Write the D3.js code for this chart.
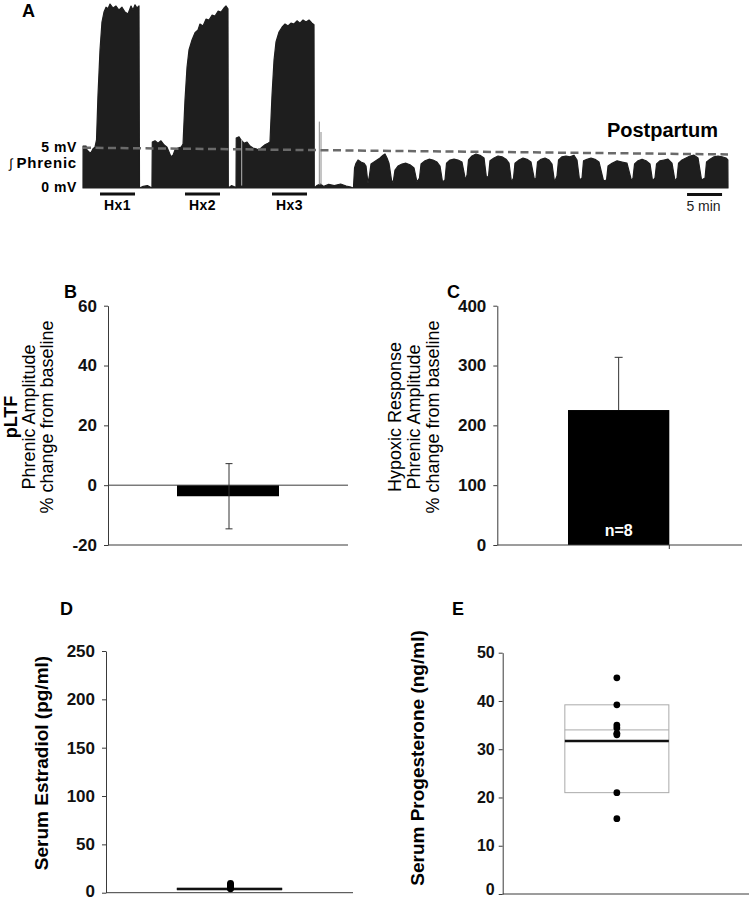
<!DOCTYPE html>
<html>
<head>
<meta charset="utf-8">
<script src="https://cdn.jsdelivr.net/npm/d3@7"></script>
<style>
  body { margin: 0; background: #fff; }
  svg { font-family: "Liberation Sans", Arial, sans-serif; }
</style>
</head>
<body>
<svg id="fig" width="749" height="900"></svg>
<script>
// ---- panel A: integrated phrenic trace, [minutes, mV] envelope
const traceEnvelope = [
  [0, 0], [0.01, 5.25], [0.43, 5.25], [0.57, 4.75], [0.86, 4.5], [1.14, 4.4], [1.43, 4.9], [1.71, 5.1],
  [1.93, 6.0], [2.14, 11.6], [2.43, 17.25], [2.71, 20.75], [3.0, 22.0], [3.29, 22.6], [3.57, 22.4],
  [3.86, 23.0], [4.29, 22.5], [4.71, 22.75], [5.14, 22.25], [5.57, 22.6], [6.0, 22.0], [6.43, 21.75],
  [6.86, 22.75], [7.14, 22.25], [7.43, 22.9], [7.71, 22.5], [8.0, 22.75], [8.07, 0],
  [8.6, 0.2], [9.2, 0.3], [9.85, 0],
  [9.9, 5.75], [10.29, 5.9], [10.71, 5.6], [11.14, 5.9], [11.57, 5.4], [12.0, 5.1], [12.29, 4.5],
  [12.57, 3.9], [12.86, 4.1], [13.14, 4.75], [13.57, 5.0], [14.0, 5.1], [14.29, 5.5], [14.57, 11.0],
  [14.86, 15.1], [15.14, 17.25], [15.57, 18.5], [16.0, 19.4], [16.43, 19.75], [16.71, 20.5], [17.14, 20.25],
  [17.57, 21.1], [18.0, 21.0], [18.43, 21.6], [18.86, 21.5], [19.29, 22.1], [19.71, 22.0], [20.14, 22.5],
  [20.43, 22.75], [20.71, 22.4], [20.76, 0],
  [21.2, 0.3], [21.8, 0.1], [21.86, 0],
  [21.89, 6.25], [22.29, 6.4], [22.57, 6.0], [23.0, 5.6], [23.43, 5.75], [23.86, 5.25], [24.29, 5.0],
  [24.71, 4.9], [25.14, 4.75], [25.57, 5.1], [26.0, 5.4], [26.43, 5.6], [26.71, 5.75], [27.0, 11.6],
  [27.29, 16.0], [27.57, 18.25], [28.0, 19.5], [28.43, 20.1], [28.86, 20.5], [29.29, 20.25], [29.71, 20.6],
  [30.14, 20.5], [30.57, 20.9], [31.0, 20.6], [31.43, 21.0], [31.86, 20.75], [32.29, 21.0], [32.71, 20.6],
  [33.0, 20.4], [33.04, 0],
  [33.4, 0.3], [33.9, 0.5], [34.4, 0.2], [35.1, 0.45], [35.9, 0.3], [36.8, 0.5], [37.6, 0.25], [38.3, 0.1], [38.6, 0],
  // postpartum baseline bursts
  [38.64, 0.1], [38.79, 2.5], [39.0, 3.1], [39.29, 3.5], [39.71, 3.25], [40.14, 3.1], [40.43, 2.75], [40.71, 0.6],
  [40.93, 1.6], [41.14, 3.0], [41.57, 3.25], [42.0, 3.5], [42.43, 3.75], [42.86, 4.1], [43.14, 4.25], [43.43, 3.75], [43.71, 3.1], [44.07, 1.0],
  [44.29, 0.6], [44.57, 2.25], [45.0, 2.75], [45.57, 3.0], [46.14, 3.1], [46.71, 2.9], [47.29, 2.5], [47.71, 0.75],
  [48.07, 1.25], [48.29, 3.0], [48.86, 3.4], [49.43, 3.6], [50.0, 3.5], [50.57, 3.25], [51.0, 2.75], [51.36, 0.75],
  [51.71, 1.0], [51.93, 3.1], [52.43, 3.5], [53.0, 3.6], [53.57, 3.5], [54.14, 3.25], [54.64, 1.0],
  [54.86, 1.6], [55.07, 3.5], [55.57, 4.0], [56.14, 4.25], [56.71, 4.1], [57.29, 3.75], [57.64, 1.25],
  [57.93, 1.5], [58.14, 3.4], [58.71, 3.75], [59.29, 4.0], [59.86, 3.9], [60.43, 3.6], [60.86, 3.1], [61.21, 0.75],
  [61.5, 1.25], [61.71, 3.1], [62.29, 3.5], [62.86, 3.75], [63.43, 3.6], [64.0, 3.25], [64.5, 1.0],
  [64.71, 1.25], [64.93, 3.25], [65.43, 3.6], [66.0, 3.75], [66.57, 3.5], [67.0, 3.0], [67.36, 0.75],
  [67.71, 1.5], [67.93, 3.5], [68.43, 3.9], [69.0, 4.0], [69.57, 3.9], [70.14, 4.1], [70.57, 3.5], [70.93, 1.0],
  [71.29, 1.25], [71.5, 3.4], [72.0, 3.6], [72.57, 3.75], [73.14, 3.6], [73.71, 3.25], [74.36, 0.9],
  [74.79, 1.0], [75.0, 2.75], [75.57, 3.1], [76.29, 3.4], [77.0, 3.25], [77.71, 3.1], [78.36, 0.9],
  [78.57, 1.25], [78.79, 3.0], [79.29, 3.4], [79.86, 3.6], [80.43, 3.4], [81.0, 3.0], [81.36, 0.9],
  [81.71, 1.25], [81.93, 3.0], [82.43, 3.4], [83.0, 3.5], [83.57, 3.6], [84.14, 3.1], [84.57, 0.9],
  [84.86, 1.25], [85.07, 3.1], [85.57, 3.5], [86.14, 3.75], [86.71, 4.0], [87.29, 4.1], [87.86, 3.75], [88.36, 1.0],
  [88.86, 1.25], [89.07, 3.25], [89.57, 3.6], [90.14, 3.9], [90.71, 4.0], [91.29, 3.9], [91.86, 3.75], [92.12, 3.5], [92.14, 0]
];
const spikeTimes = [33.76, 34.0];
const spikeTops = [8.3, 7.0];
const artifactTimes = [22.67];
const artifactTops = [6.0];
const baselineRef = [[0, 5.04], [92.14, 4.2]];
const hxLabels = ['Hx1', 'Hx2', 'Hx3'];
const hxStart = [2.43, 14.57, 27.0];
const hxEnd = [7.43, 19.57, 32.0];
const scaleBarMin = [86.29, 91.29];

// ---- panel B / C: mean +/- SEM
const groups = ['Postpartum'];
const pltfMean = [-3.7];
const pltfSem = [10.9];
const hvrMean = [225.6];
const hvrSem = [88.1];
const ticksB = [-20, 0, 20, 40, 60];
const ticksC = [0, 100, 200, 300, 400];

// ---- panel D / E: individual values and box summary
const estradiolValues = [9.5, 8.5, 7.5, 6.5, 5.5, 5.0, 4.5, 4.0];
const estradiolBox = [3.2, 4.6];   // [q1, q3]
const estradiolMedian = [3.8];
const progesteroneValues = [44.8, 39.2, 35.0, 34.4, 33.3, 33.0, 21.0, 15.6];
const progesteroneBox = [21.0, 39.2];
const progesteroneMean = [34.0];
const progesteroneMedian = [31.7];
const ticksD = [0, 50, 100, 150, 200, 250];
const ticksE = [0, 10, 20, 30, 40, 50];

const svg = d3.select('#fig');
const axisColor = '#3a3a3a';
const font = '"Liberation Sans", Arial, sans-serif';

function panelLetter(txt, x, y) {
  svg.append('text').attr('x', x).attr('y', y)
    .attr('font-size', 18).attr('font-weight', 'bold').text(txt);
}

function yAxis(scale, ticks, x, pad, size, dy) {
  svg.append('g')
    .attr('transform', 'translate(' + x + ',0)')
    .call(d3.axisLeft(scale).tickValues(ticks).tickSize(4).tickSizeOuter(0)
      .tickPadding(pad).tickFormat(d => String(d)))
    .call(g => {
      g.select('.domain').attr('stroke', axisColor);
      g.selectAll('.tick line').attr('stroke', axisColor);
      g.selectAll('.tick text')
        .attr('font-family', font).attr('font-size', size)
        .attr('font-weight', 'bold').attr('fill', '#111')
        .attr('dy', (d, i) => (i === 0 && dy != null) ? dy : '0.32em');
    });
}

function rotLabel(lines, xs, cy, bold, size) {
  lines.forEach((t, i) => {
    svg.append('text')
      .attr('transform', 'translate(' + xs[i] + ',' + cy + ') rotate(-90)')
      .attr('text-anchor', 'middle')
      .attr('font-size', size)
      .attr('font-weight', bold[i] ? 'bold' : 'normal')
      .text(t);
  });
}

function hline(x1, x2, y, color, w) {
  svg.append('line').attr('x1', x1).attr('x2', x2).attr('y1', y).attr('y2', y)
    .attr('stroke', color).attr('stroke-width', w);
}

// ================= Panel A =================
panelLetter('A', 22, 17);
const xA = d3.scaleLinear().domain([0, 92.14]).range([83, 728]);
const yA = d3.scaleLinear().domain([0, 5]).range([188, 148]);

const traceArea = d3.area()
  .x(d => xA(d[0]))
  .y0(yA(0))
  .y1(d => yA(d[1]));

svg.append('path')
  .datum(traceEnvelope)
  .attr('d', traceArea)
  .attr('fill', '#1e1e1e')
  .attr('stroke', '#1e1e1e')
  .attr('stroke-width', 1.2)
  .attr('stroke-linejoin', 'round');

artifactTimes.forEach((t, i) => {
  svg.append('line').attr('x1', xA(t)).attr('x2', xA(t))
    .attr('y1', yA(0.3)).attr('y2', yA(artifactTops[i]))
    .attr('stroke', '#b5b5b5').attr('stroke-width', 1);
});
spikeTimes.forEach((t, i) => {
  svg.append('line').attr('x1', xA(t)).attr('x2', xA(t))
    .attr('y1', yA(0.4)).attr('y2', yA(spikeTops[i]))
    .attr('stroke', '#8a8a8a').attr('stroke-width', 1);
});

svg.append('path')
  .datum(baselineRef)
  .attr('d', d3.line().x(d => xA(d[0])).y(d => yA(d[1])))
  .attr('fill', 'none')
  .attr('stroke', '#6a6a6a')
  .attr('stroke-width', 2.5)
  .attr('stroke-dasharray', '8,4.5');

svg.append('text').attr('x', 77).attr('y', yA(5) + 4).attr('letter-spacing', 0.6)
  .attr('text-anchor', 'end').attr('font-size', 14).attr('font-weight', 'bold').text('5 mV');
svg.append('text').attr('x', 77).attr('y', yA(0) + 4).attr('letter-spacing', 0.6)
  .attr('text-anchor', 'end').attr('font-size', 14).attr('font-weight', 'bold').text('0 mV');
const phr = svg.append('text').attr('x', 77).attr('y', yA(2.5))
  .attr('text-anchor', 'end').attr('font-size', 15);
phr.append('tspan').attr('font-weight', 'normal').attr('font-size', 13).text('\u222B ');
phr.append('tspan').attr('font-weight', 'bold').attr('letter-spacing', 0.8).text('Phrenic');

hxLabels.forEach((lab, i) => {
  svg.append('line').attr('x1', xA(hxStart[i])).attr('x2', xA(hxEnd[i]))
    .attr('y1', 194).attr('y2', 194).attr('stroke', '#111').attr('stroke-width', 3);
  svg.append('text').attr('x', (xA(hxStart[i]) + xA(hxEnd[i])) / 2).attr('y', 210)
    .attr('text-anchor', 'middle').attr('font-size', 14).attr('font-weight', 'bold')
    .attr('letter-spacing', 0.5).text(lab);
});
svg.append('line').attr('x1', xA(scaleBarMin[0])).attr('x2', xA(scaleBarMin[1]))
  .attr('y1', 194.5).attr('y2', 194.5).attr('stroke', '#111').attr('stroke-width', 3);
svg.append('text').attr('x', (xA(scaleBarMin[0]) + xA(scaleBarMin[1])) / 2 - 1).attr('y', 211)
  .attr('text-anchor', 'middle').attr('font-size', 14).attr('fill', '#222').text('5 min');
svg.append('text').attr('x', 718).attr('y', 137)
  .attr('text-anchor', 'end').attr('font-size', 20).attr('font-weight', 'bold').text(groups[0]);

// ================= Panel B =================
panelLetter('B', 64, 298);
const xB = d3.scaleBand().domain(groups).range([108, 348]).padding(0.4035);
const yB = d3.scaleLinear().domain([-20, 60]).range([545, 305.7]);
yAxis(yB, ticksB, 108, 7, 17);
hline(108, 348, yB(-20), axisColor, 1);
svg.selectAll('.barB').data(groups).enter().append('rect')
  .attr('x', d => xB(d)).attr('width', xB.bandwidth())
  .attr('y', (d, i) => yB(Math.max(0, pltfMean[i])))
  .attr('height', (d, i) => Math.abs(yB(pltfMean[i]) - yB(0)))
  .attr('fill', '#000');
hline(108, 348, yB(0), axisColor, 1);
groups.forEach((g, i) => {
  const cx = xB(g) + xB.bandwidth() / 2 + 1;
  const hi = pltfMean[i] + pltfSem[i], lo = pltfMean[i] - pltfSem[i];
  svg.append('line').attr('x1', cx).attr('x2', cx).attr('y1', yB(hi)).attr('y2', yB(lo))
    .attr('stroke', '#333').attr('stroke-width', 1);
  hline(cx - 3.5, cx + 3.5, yB(hi), '#333', 1);
  hline(cx - 3.5, cx + 3.5, yB(lo), '#333', 1);
});
rotLabel(['pLTF', 'Phrenic Amplitude', '% change from baseline'], [17, 35, 53], 417, [true, false, false], 18);

// ================= Panel C =================
panelLetter('C', 447, 298);
const xC = d3.scaleBand().domain(groups).range([497.3, 740]).padding(0.411);
const yC = d3.scaleLinear().domain([0, 400]).range([545, 305.7]);
yAxis(yC, ticksC, 497.3, 7, 17);
svg.selectAll('.barC').data(groups).enter().append('rect')
  .attr('x', d => xC(d)).attr('width', xC.bandwidth())
  .attr('y', (d, i) => yC(hvrMean[i]))
  .attr('height', (d, i) => yC(0) - yC(hvrMean[i]))
  .attr('fill', '#000');
groups.forEach((g, i) => {
  const cx = xC(g) + xC.bandwidth() / 2;
  const hi = hvrMean[i] + hvrSem[i];
  svg.append('line').attr('x1', cx).attr('x2', cx).attr('y1', yC(hi)).attr('y2', yC(hvrMean[i]))
    .attr('stroke', '#333').attr('stroke-width', 1);
  hline(cx - 4, cx + 4, yC(hi), '#333', 1);
  svg.append('text').attr('x', cx).attr('y', yC(0) - 9)
    .attr('text-anchor', 'middle').attr('font-size', 16).attr('font-weight', 'bold')
    .attr('fill', '#fff').text('n=8');
  const edge = xC(g) + xC.bandwidth();
  svg.append('line').attr('x1', edge).attr('x2', edge).attr('y1', yC(0)).attr('y2', yC(0) + 4)
    .attr('stroke', axisColor);
});
hline(497.3, 742, yC(0), axisColor, 1);
rotLabel(['Hypoxic Response', 'Phrenic Amplitude', '% change from baseline'], [401, 420, 439], 417, [false, false, false], 18);

// ================= Panel D =================
panelLetter('D', 60, 615);
const xD = d3.scaleBand().domain(groups).range([106, 353]).padding(0.403);
const yD = d3.scaleLinear().domain([0, 250]).range([892.7, 651]);
yAxis(yD, ticksD, 106, 7, 17, '0.2em');
hline(106, 353, yD(0), axisColor, 1);
groups.forEach(g => {
  svg.append('rect').attr('x', xD(g)).attr('width', xD.bandwidth())
    .attr('y', yD(estradiolBox[1])).attr('height', yD(estradiolBox[0]) - yD(estradiolBox[1]))
    .attr('fill', 'none').attr('stroke', '#aaa').attr('stroke-width', 1);
  hline(xD(g), xD(g) + xD.bandwidth(), yD(estradiolMedian[0]), '#111', 2.5);
  svg.selectAll('.dotD').data(estradiolValues).enter().append('circle')
    .attr('cx', xD(g) + xD.bandwidth() / 2 + 1).attr('cy', d => yD(d)).attr('r', 3.4)
    .attr('fill', '#000');
});
rotLabel(['Serum Estradiol (pg/ml)'], [48], 763, [true], 19);

// ================= Panel E =================
panelLetter('E', 452, 615);
const xE = d3.scaleBand().domain(groups).range([502.7, 731]).padding(0.374);
const yE = d3.scaleLinear().domain([0, 50]).range([894, 652.7]);
yAxis(yE, ticksE, 502.7, 4, 16, '0.05em');
hline(502.7, 749, yE(0), axisColor, 1);
groups.forEach(g => {
  svg.append('rect').attr('x', xE(g)).attr('width', xE.bandwidth())
    .attr('y', yE(progesteroneBox[1])).attr('height', yE(progesteroneBox[0]) - yE(progesteroneBox[1]))
    .attr('fill', 'none').attr('stroke', '#aaa').attr('stroke-width', 1);
  hline(xE(g), xE(g) + xE.bandwidth(), yE(progesteroneMean[0]), '#aaa', 1);
  hline(xE(g), xE(g) + xE.bandwidth(), yE(progesteroneMedian[0]), '#111', 2.5);
  svg.selectAll('.dotE').data(progesteroneValues).enter().append('circle')
    .attr('cx', xE(g) + xE.bandwidth() / 2).attr('cy', d => yE(d)).attr('r', 3.4)
    .attr('fill', '#000');
});
rotLabel(['Serum Progesterone (ng/ml)'], [424], 758, [true], 19);
</script>
</body>
</html>
